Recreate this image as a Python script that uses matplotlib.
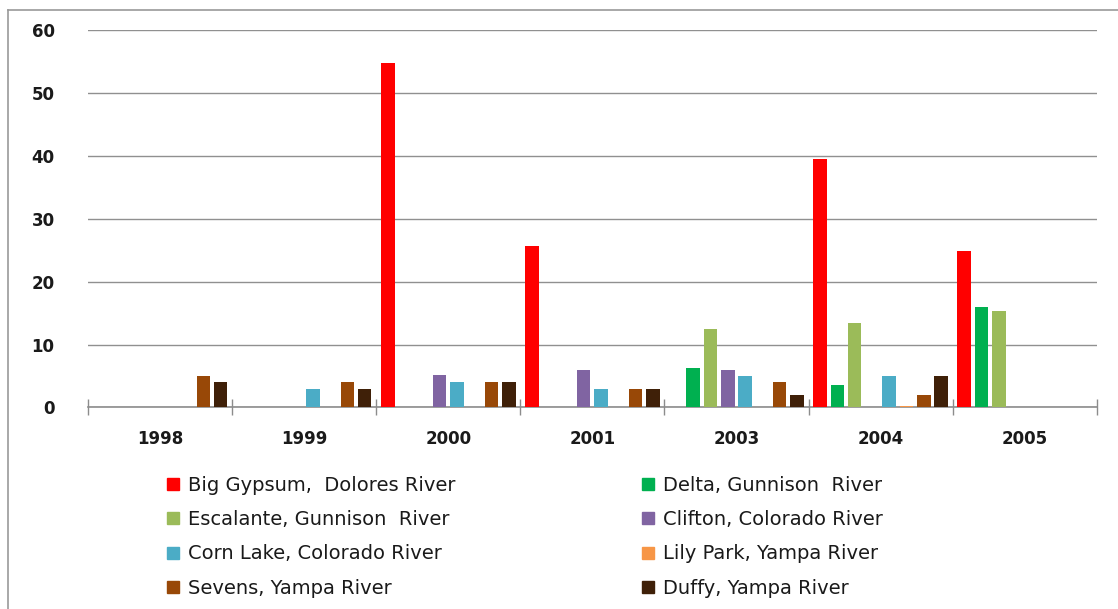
import numpy as np
import matplotlib
matplotlib.use('Agg')
import matplotlib.pyplot as plt
from matplotlib.lines import Line2D

plt.rcParams['font.family'] = ['DejaVu Sans']

years = ['1998', '1999', '2000', '2001', '2003', '2004', '2005']

# values, one list per site (0 = no bar)
big_gypsum = [0, 0, 54.7, 25.7, 0, 39.5, 24.8]
delta = [0, 0, 0, 0, 6.2, 3.6, 16.0]
escalante = [0, 0, 0, 0, 12.4, 13.4, 15.3]
clifton = [0, 0, 5.2, 6.0, 6.0, 0, 0]
corn_lake = [0, 3.0, 4.0, 3.0, 5.0, 5.0, 0]
lily_park = [0, 0, 0, 0, 0, 0.3, 0]
sevens = [5.0, 4.0, 4.0, 3.0, 4.0, 2.0, 0]
duffy = [4.0, 3.0, 4.0, 3.0, 2.0, 5.0, 0]

names = ['Big Gypsum,  Dolores River', 'Delta, Gunnison  River',
         'Escalante, Gunnison  River', 'Clifton, Colorado River',
         'Corn Lake, Colorado River', 'Lily Park, Yampa River',
         'Sevens, Yampa River', 'Duffy, Yampa River']
series = [big_gypsum, delta, escalante, clifton, corn_lake, lily_park, sevens, duffy]
colors = ['#FF0000', '#00B050', '#9BBB59', '#8064A2',
          '#4BACC6', '#F79646', '#984807', '#3F2008']

fig = plt.figure(figsize=(11.18, 6.09), dpi=100)
ax = fig.add_axes([0.0787, 0.331, 0.9023, 0.6197])

x = np.arange(len(years))
slot = 0.12
w = 0.094
for j, (vals, c) in enumerate(zip(series, colors)):
    ax.bar(x + 0.5 + (j - 3.5) * slot, vals, width=w, color=c, zorder=3)

ax.set_xlim(0, len(years))
ax.set_ylim(0, 60)
ax.set_yticks(np.arange(0, 61, 10))
ax.yaxis.grid(True, color='#909090', linewidth=1.0)
ax.set_axisbelow(True)

ax.set_xticks(np.arange(0, len(years) + 1))
ax.set_xticklabels([])
ax.set_xticks(x + 0.5, minor=True)
ax.set_xticklabels(years, minor=True)
ax.tick_params(axis='x', which='major', direction='inout', length=12,
               color='#8c8c8c', width=1)
ax.tick_params(axis='x', which='minor', length=0, pad=16)
ax.tick_params(axis='y', length=0, pad=24)
for lab in ax.get_xticklabels(minor=True) + ax.get_yticklabels():
    lab.set_fontsize(12)
    lab.set_fontweight('bold')
    lab.set_color('#1a1a1a')

for s in ['left', 'right', 'top']:
    ax.spines[s].set_visible(False)
ax.spines['bottom'].set_color('#8c8c8c')
ax.spines['bottom'].set_linewidth(1.2)

# two legend columns, filled row by row like the original
def handle(c):
    return Line2D([], [], marker='s', linestyle='none', markersize=8,
                  markerfacecolor=c, markeredgecolor=c)

left_idx = [0, 2, 4, 6]
right_idx = [1, 3, 5, 7]
for idx, xpos in [(left_idx, 0.141), (right_idx, 0.566)]:
    leg = fig.legend([handle(colors[i]) for i in idx], [names[i] for i in idx],
                     loc='upper left', bbox_to_anchor=(xpos, 0.231),
                     frameon=False, fontsize=14, handlelength=0.8,
                     handletextpad=0.35, labelspacing=0.78, borderaxespad=0)
    for t in leg.get_texts():
        t.set_color('#1a1a1a')

# outer chart border
fig.add_artist(Line2D([8 / 1118, 8 / 1118], [0, 1 - 10 / 609],
                      transform=fig.transFigure, color='#999999', linewidth=1.2))
fig.add_artist(Line2D([8 / 1118, 1], [1 - 10 / 609, 1 - 10 / 609],
                      transform=fig.transFigure, color='#999999', linewidth=1.2))

fig.savefig('out.png', dpi=100)
